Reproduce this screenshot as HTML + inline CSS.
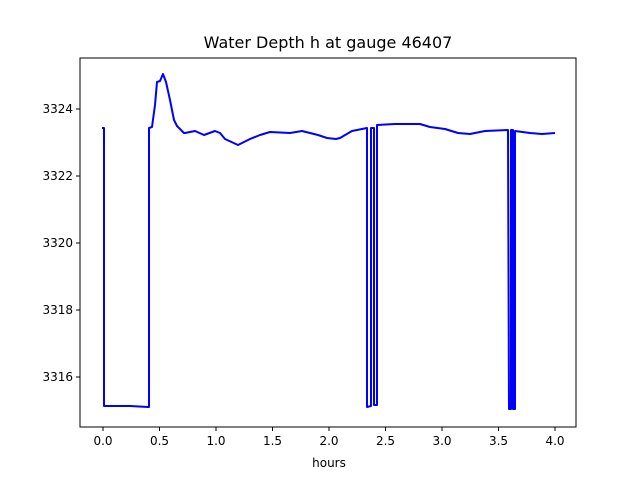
<!DOCTYPE html>
<html><head><style>body{margin:0;background:#fff}svg{display:block}</style></head><body>
<svg width="640" height="480" xmlns="http://www.w3.org/2000/svg" font-family="DejaVu Sans, sans-serif">
<rect x="80" y="58" width="496" height="369" fill="none" stroke="#000" stroke-width="1"/>
<text x="328" y="48" font-size="16" text-anchor="middle">Water Depth h at gauge 46407</text>
<g stroke="#000" stroke-width="1">
<line x1="103" y1="427" x2="103" y2="431"/><line x1="159.5" y1="427" x2="159.5" y2="431"/><line x1="216" y1="427" x2="216" y2="431"/><line x1="272.5" y1="427" x2="272.5" y2="431"/><line x1="329" y1="427" x2="329" y2="431"/><line x1="385.5" y1="427" x2="385.5" y2="431"/><line x1="442" y1="427" x2="442" y2="431"/><line x1="498.5" y1="427" x2="498.5" y2="431"/><line x1="555" y1="427" x2="555" y2="431"/>
<line x1="76" y1="109" x2="80" y2="109"/><line x1="76" y1="176" x2="80" y2="176"/><line x1="76" y1="243" x2="80" y2="243"/><line x1="76" y1="310" x2="80" y2="310"/><line x1="76" y1="377" x2="80" y2="377"/>
</g>
<g font-size="12" text-anchor="middle">
<text x="103" y="445">0.0</text><text x="159.5" y="445">0.5</text><text x="216" y="445">1.0</text><text x="272.5" y="445">1.5</text><text x="329" y="445">2.0</text><text x="385.5" y="445">2.5</text><text x="442" y="445">3.0</text><text x="498.5" y="445">3.5</text><text x="555" y="445">4.0</text>
<text x="329" y="467">hours</text>
</g>
<g font-size="12" text-anchor="end">
<text x="73" y="113">3324</text><text x="73" y="180">3322</text><text x="73" y="247">3320</text><text x="73" y="314">3318</text><text x="73" y="381">3316</text>
</g>
<polyline fill="none" stroke="#0000ff" stroke-width="2" stroke-linejoin="round" points="102,128 104,128 104,406 130,406 148,407 149,407 149,128 152,127 155,105 157,82 160,81 163,74 166,82 170,100 174,120 177,126 184,133 185,133 195,131 204,135 215,131 220,133 225,139 238,145 250,139 260,135 270,132 290,133 302,131 318,135 327,138 336,139 340,138 352,131 367,128 367,407 371,406 371,128 374,128 374,405 377,405 377,125 395,124 410,124 420,124 430,127 445,129 458,133 470,134 485,131 508,130 509,409 511,409 511,130 513,130 513,409 515,409 515,131 530,133 542,134 555,133"/>
</svg>
</body></html>
